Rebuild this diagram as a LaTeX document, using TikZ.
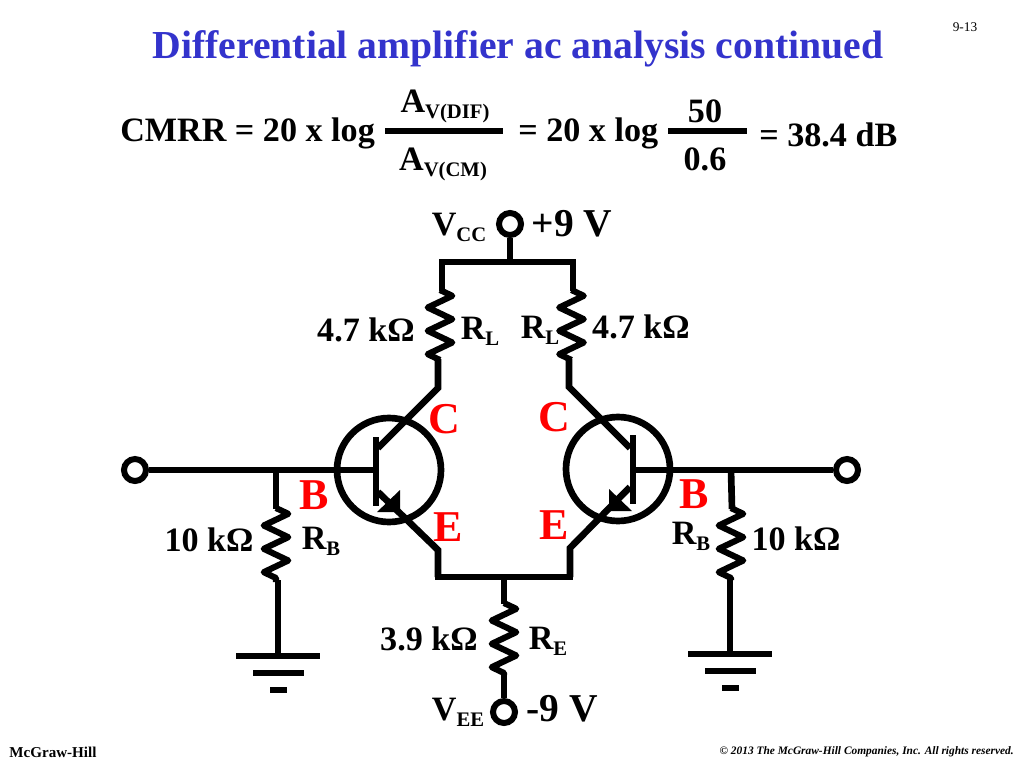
\documentclass[tikz,border=0pt]{standalone}
\usepackage{fontspec}
\setmainfont{Liberation Serif}
\usetikzlibrary{decorations.pathmorphing}
\definecolor{titleblue}{RGB}{51,51,204}
\newcommand{\lowsub}[1]{\raisebox{-5pt}{\fontsize{15.5}{15.5}\selectfont #1}}
\begin{document}
\begin{tikzpicture}[
    x=0.75pt, y=-0.75pt,
    wire/.style={line width=5pt, line join=miter},
    zig/.style={line width=4.6pt, line join=round, decorate, decoration={zigzag, segment length=17.5pt, amplitude=9.2pt}},
    terminal/.style={circle, draw, line width=4.5pt, fill=white, inner sep=0pt, minimum size=16.5pt},
    device/.style={circle, draw, line width=5pt, inner sep=0pt, minimum size=78pt},
    value/.style={font=\bfseries\fontsize{25.6}{25.6}\selectfont, inner sep=0pt},
    term/.style={font=\bfseries\fontsize{25.6}{25.6}\selectfont, inner sep=0pt},
    supply/.style={font=\bfseries\fontsize{29.6}{29.6}\selectfont, inner sep=0pt},
    pin/.style={font=\bfseries\fontsize{33}{33}\selectfont, text=red, inner sep=0pt}
]
\useasboundingbox (0,0) rectangle (1024,768);

% Title and page texts
\node[font=\bfseries\fontsize{29.75}{29.75}\selectfont, text=titleblue, inner sep=0pt] (title) at (518,49) {Differential amplifier ac analysis continued};
\node[font=\fontsize{10}{10}\selectfont, inner sep=0pt] (page) at (965,27) {9-13};
\node[font=\bfseries\fontsize{11.3}{11.3}\selectfont, inner sep=0pt] (brand) at (53,752) {McGraw-Hill};
\node[font=\bfseries\itshape\fontsize{8.55}{8.55}\selectfont, inner sep=0pt, anchor=east] (rights) at (1014,752) {© 2013 The McGraw-Hill Companies, Inc. All rights reserved.};

% CMRR equation
\node[term, anchor=base west] (cmrr) at (120,141) {CMRR = 20 x log};
\node[term, anchor=base] (difgain) at (445,112) {A\lowsub{V(DIF)}};
\node[term, anchor=base] (cmgain) at (443,170) {A\lowsub{V(CM)}};
\node[term, anchor=base west] (middle) at (518,141) {= 20 x log};
\node[term, anchor=base] (fifty) at (705,122) {50};
\node[term, anchor=base] (ratio) at (705,170) {0.6};
\node[term, anchor=base west] (result) at (759,146) {= 38.4 dB};
\draw[wire] (385,131) -- (503,131);
\draw[wire] (668,131) -- (747,131);

% Transistors
\node[device] (qleft) at (389,470) {};
\node[device] (qright) at (618,469) {};

% Terminals
\node[terminal] (vcc) at (510,224) {};
\node[terminal] (vee) at (504,712) {};
\node[terminal] (inleft) at (135,470) {};
\node[terminal] (inright) at (847,470) {};

% Junctions
\coordinate (topmid) at (510,262);
\coordinate (topleft) at (442,262);
\coordinate (topright) at (573,262);
\coordinate (lowmid) at (504,577);
\coordinate (lowleft) at (438,577);
\coordinate (lowright) at (570,577);
\coordinate (baseleft) at (376,470);
\coordinate (baseright) at (633,470);
\coordinate (tapleft) at (276,470);
\coordinate (tapright) at (731,470);
\coordinate (gndleft) at (278,656);
\coordinate (gndright) at (730,654);

% Supply rails
\draw[wire] (vcc) -- (topmid);
\draw[wire, line cap=rect] (topleft) -- (topright);
\draw[wire, line cap=rect] (lowleft) -- (lowright);

% Load resistors and collectors
\draw[wire] (topleft) -- (442,291);
\draw[zig] (440,290) -- (440,360);
\draw[wire] (438,359) -- (438,388) -- (378,448);
\draw[wire] (topright) -- (573,291);
\draw[zig] (571.5,290) -- (571.5,360);
\draw[wire] (569,359) -- (569,387) -- (630,448);

% Emitters
\draw[wire] (378,492) -- (438,550) -- (lowleft);
\draw[wire] (630,487) -- (570,548) -- (lowright);
\fill (400,490) -- (377,512) -- (400,512) -- cycle;
\fill (609,489) -- (609,511) -- (632,511) -- cycle;

% Base bars
\draw[wire] (376,437) -- (376,506);
\draw[wire] (633,435) -- (633,504);
\draw[wire] (inleft) -- (baseleft);
\draw[wire] (baseright) -- (inright);

% Base resistors and grounds
\draw[wire] (tapleft) -- (276,509);
\draw[zig] (276,508) -- (276,582);
\draw[wire] (278,580) -- (gndleft);
\draw[wire] (236,656) -- (320,656);
\draw[wire] (253,673) -- (304,673);
\draw[wire] (270,690) -- (287,690);
\draw[wire] (tapright) -- (732,509);
\draw[zig] (731,508) -- (731,580);
\draw[wire] (730,578) -- (gndright);
\draw[wire] (688,654) -- (772,654);
\draw[wire] (705,671) -- (756,671);
\draw[wire] (722,688) -- (739,688);

% Emitter resistor
\draw[wire] (lowmid) -- (504,604);
\draw[zig] (504,603) -- (504,675);
\draw[wire] (504,673) -- (vee);

% Circuit labels
\node[term, anchor=base] (vcclabel) at (459,235) {V\lowsub{CC}};
\node[supply, anchor=base] (vccvalue) at (572,236) {+9 V};
\node[value] (rlval) at (366,330) {4.7 kΩ};
\node[value, anchor=base] (rllabel) at (480,339) {R\lowsub{L}};
\node[value, anchor=base] (rrlabel) at (540,338) {R\lowsub{L}};
\node[value] (rrval) at (641,327) {4.7 kΩ};
\node[pin] (cleft) at (444,419) {C};
\node[pin] (cright) at (554,417) {C};
\node[pin] (bleft) at (314,495) {B};
\node[pin] (bright) at (694,494) {B};
\node[pin] (eleft) at (448,527) {E};
\node[pin] (eright) at (554,525) {E};
\node[value, anchor=base] (rbleft) at (321,549) {R\lowsub{B}};
\node[value] (rbleftval) at (209,540) {10 kΩ};
\node[value, anchor=base] (rbright) at (691,544) {R\lowsub{B}};
\node[value] (rbrightval) at (796,539) {10 kΩ};
\node[value] (reval) at (429,639) {3.9 kΩ};
\node[value, anchor=base] (relabel) at (548,649) {R\lowsub{E}};
\node[term, anchor=base] (veelabel) at (458,720) {V\lowsub{EE}};
\node[supply, anchor=base] (veevalue) at (562,721) {-9 V};

\end{tikzpicture}
\end{document}
